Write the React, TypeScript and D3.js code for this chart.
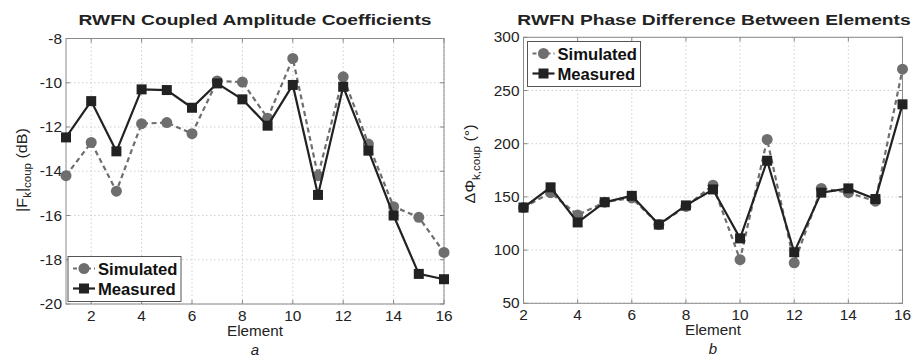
import React from "react";
import * as d3 from "d3";

const elementsA = [1, 2, 3, 4, 5, 6, 7, 8, 9, 10, 11, 12, 13, 14, 15, 16];
const simulatedA = [-14.2, -12.7, -14.9, -11.85, -11.8, -12.3, -9.92, -9.97, -11.6, -8.9, -14.2, -9.73, -12.77, -15.6, -16.08, -17.67];
const measuredA = [-12.47, -10.83, -13.1, -10.3, -10.33, -11.13, -10.03, -10.75, -11.94, -10.1, -15.07, -10.18, -13.07, -16.0, -18.64, -18.88];

const elementsB = [2, 3, 4, 5, 6, 7, 8, 9, 10, 11, 12, 13, 14, 15, 16];
const simulatedB = [140, 154, 133, 145, 149, 124, 141, 161, 91, 204, 88, 158, 154, 146, 270];
const measuredB = [140, 159, 126, 145, 151, 124, 142, 157, 111, 184, 98, 154, 158, 148, 237];

const xTicksA = [2, 4, 6, 8, 10, 12, 14, 16];
const yTicksA = [-20, -18, -16, -14, -12, -10, -8];
const xTicksB = [2, 4, 6, 8, 10, 12, 14, 16];
const yTicksB = [50, 100, 150, 200, 250, 300];

const FONT = "'Liberation Sans', Arial, sans-serif";
const SIM_COLOR = "#6e6e6e";
const MEAS_COLOR = "#222222";

type STProps = {
  x: number; y: number; sx?: number; rot?: number; anchor?: string;
  size: number; bold?: boolean; italic?: boolean; fill?: string; children: React.ReactNode;
};
function ST({ x, y, sx = 1, rot = 0, anchor = "start", size, bold, italic, fill = "#222", children }: STProps) {
  return (
    <text
      transform={`translate(${x},${y}) rotate(${rot}) scale(${sx},1)`}
      textAnchor={anchor}
      fontSize={size}
      fontWeight={bold ? "bold" : "normal"}
      fontStyle={italic ? "italic" : "normal"}
      fontFamily={FONT}
      fill={fill}
    >
      {children}
    </text>
  );
}

type PanelProps = {
  left: number; right: number; top: number; bottom: number;
  xDomain: [number, number]; yDomain: [number, number];
  xTicks: number[]; yTicks: number[];
  xs: number[]; sim: number[]; meas: number[];
  title: string; titleX: number; titleY: number;
  yLabel: React.ReactNode; yLabelX: number; yLabelY: number;
  sub: string;
  legendX: number; legendY: number;
};

function Panel(p: PanelProps) {
  const x = d3.scaleLinear().domain(p.xDomain).range([p.left, p.right]);
  const y = d3.scaleLinear().domain(p.yDomain).range([p.bottom, p.top]);
  const line = d3.line<number>().x((_, i) => x(p.xs[i])).y((d) => y(d));
  const midX = (p.left + p.right) / 2;
  const sq = 10;
  const lw = 113, lh = 45;
  return (
    <g>
      <rect x={p.left} y={p.top} width={p.right - p.left} height={p.bottom - p.top} fill="#fff" />
      {p.xTicks.map((t) => (
        <line key={"gx" + t} x1={x(t)} x2={x(t)} y1={p.top} y2={p.bottom} stroke="#cfcfcf" strokeWidth={1} strokeDasharray="1.5,2.5" />
      ))}
      {p.yTicks.map((t) => (
        <line key={"gy" + t} x1={p.left} x2={p.right} y1={y(t)} y2={y(t)} stroke="#cfcfcf" strokeWidth={1} strokeDasharray="1.5,2.5" />
      ))}
      {p.xTicks.map((t) => (
        <g key={"tx" + t}>
          <line x1={x(t)} x2={x(t)} y1={p.bottom} y2={p.bottom - 4} stroke="#888" />
          <line x1={x(t)} x2={x(t)} y1={p.top} y2={p.top + 4} stroke="#888" />
          <ST x={x(t)} y={p.bottom + 17} anchor="middle" size={14} sx={1.1}>{t}</ST>
        </g>
      ))}
      {p.yTicks.map((t) => (
        <g key={"ty" + t}>
          <line x1={p.left} x2={p.left + 4} y1={y(t)} y2={y(t)} stroke="#888" />
          <line x1={p.right} x2={p.right - 4} y1={y(t)} y2={y(t)} stroke="#888" />
          <ST x={p.left - 4} y={y(t) + 5} anchor="end" size={14} sx={1.1}>{t}</ST>
        </g>
      ))}
      <rect x={p.left} y={p.top} width={p.right - p.left} height={p.bottom - p.top} fill="none" stroke="#8a8a8a" strokeWidth={1} />
      <path d={line(p.sim) || ""} fill="none" stroke={SIM_COLOR} strokeWidth={2.2} strokeDasharray="5,3.5" />
      {p.sim.map((v, i) => (
        <circle key={"s" + i} cx={x(p.xs[i])} cy={y(v)} r={5.5} fill={SIM_COLOR} />
      ))}
      <path d={line(p.meas) || ""} fill="none" stroke={MEAS_COLOR} strokeWidth={2.2} />
      {p.meas.map((v, i) => (
        <rect key={"m" + i} x={x(p.xs[i]) - sq / 2} y={y(v) - sq / 2} width={sq} height={sq} fill={MEAS_COLOR} />
      ))}
      <ST x={p.titleX} y={p.titleY} anchor="middle" size={15.5} sx={1.24} bold>{p.title}</ST>
      <ST x={midX} y={p.bottom + 32} anchor="middle" size={14.5} sx={1.05}>Element</ST>
      <ST x={midX} y={p.bottom + 51} anchor="middle" size={15} italic>{p.sub}</ST>
      <ST x={p.yLabelX} y={p.yLabelY} rot={-90} anchor="middle" size={14} sx={1.15}>{p.yLabel}</ST>
      <g transform={`translate(${p.legendX},${p.legendY})`}>
        <rect x={0} y={0} width={lw} height={lh} fill="#fff" stroke="#555" strokeWidth={1} />
        <line x1={5} x2={27} y1={12} y2={12} stroke={SIM_COLOR} strokeWidth={2.2} strokeDasharray="4,3" />
        <circle cx={16} cy={12} r={5.5} fill={SIM_COLOR} />
        <ST x={30} y={18} size={16} sx={1.04} bold fill="#111">Simulated</ST>
        <line x1={5} x2={27} y1={32} y2={32} stroke={MEAS_COLOR} strokeWidth={2.2} />
        <rect x={16 - sq / 2} y={32 - sq / 2} width={sq} height={sq} fill={MEAS_COLOR} />
        <ST x={30} y={38} size={16} sx={1.04} bold fill="#111">Measured</ST>
      </g>
    </g>
  );
}

export default function App() {
  return (
    <svg width={912} height={358} style={{ position: "absolute", left: 0, top: 0, background: "#fff" }}>
      <Panel
        left={66} right={444} top={38.5} bottom={304}
        xDomain={[1, 16]} yDomain={[-20, -8]}
        xTicks={xTicksA} yTicks={yTicksA}
        xs={elementsA} sim={simulatedA} meas={measuredA}
        title="RWFN Coupled Amplitude Coefficients" titleX={255} titleY={25}
        yLabel={<>|F<tspan fontSize={10} dy={4}>k</tspan><tspan dy={-4}>|</tspan><tspan fontSize={10} dy={4}>coup</tspan><tspan dy={-4}> (dB)</tspan></>}
        yLabelX={27} yLabelY={170}
        sub="a"
        legendX={68} legendY={256.5}
      />
      <Panel
        left={523.5} right={902.5} top={37.3} bottom={303.3}
        xDomain={[2, 16]} yDomain={[50, 300]}
        xTicks={xTicksB} yTicks={yTicksB}
        xs={elementsB} sim={simulatedB} meas={measuredB}
        title="RWFN Phase Difference Between Elements" titleX={714} titleY={25}
        yLabel={<>ΔΦ<tspan fontSize={10} dy={5}>k,coup</tspan><tspan dy={-5}> (°)</tspan></>}
        yLabelX={475} yLabelY={164}
        sub="b"
        legendX={527.5} legendY={41.5}
      />
    </svg>
  );
}
